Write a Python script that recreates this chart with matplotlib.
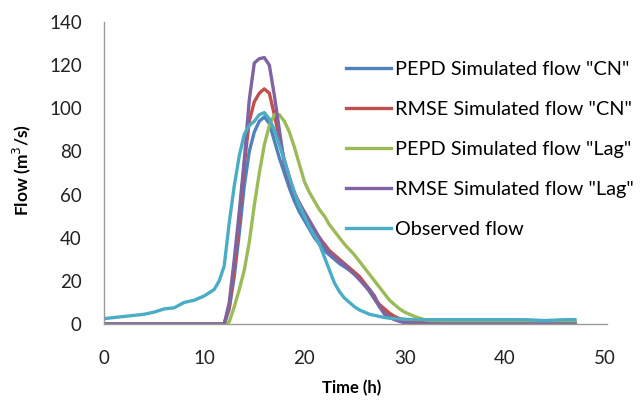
import matplotlib
matplotlib.use("Agg")
import matplotlib.pyplot as plt

# time axis (h)
t_early = [0, 1, 2, 3, 4, 5, 6, 7, 8, 9, 10, 11]
t_mid = [11.5, 12, 12.5, 13, 13.5, 14, 14.5, 15, 15.5, 16, 16.5, 17, 17.5, 18, 18.5,
         19, 19.5, 20, 20.5, 21, 21.5, 22, 22.5, 23, 23.5, 24, 24.5, 25, 25.5, 26,
         26.5, 27, 27.5, 28, 28.5, 29, 29.5, 30, 30.5, 31]
t_late = [32, 33, 34, 35, 36, 37, 38, 39, 40, 41, 42, 43, 44, 45, 46, 47]
time_h = t_early + t_mid + t_late

pepd_cn = ([0] * 12 +
           [0, 0, 7, 22, 42, 64, 80, 89, 94, 96, 93, 85, 77, 70, 63, 57, 52, 48, 44, 40,
            37, 34, 32, 30, 28, 26.5, 25, 23, 21, 18, 15, 11.5, 8, 5.5, 3.5, 2.5, 1.8, 1.3, 1, 0.8] +
           [0.6, 0.5, 0.5, 0.5, 0.5, 0.5, 0.5, 0.5, 0.5, 0.5, 0.5, 0.5, 0.5, 0.5, 0.5, 0.5])
rmse_cn = ([0] * 12 +
           [0, 0, 8, 25, 48, 74, 94, 103, 107, 109, 107, 97, 86, 76, 68, 61, 56, 51, 47, 43,
            40, 37, 34, 32, 30, 28, 26, 24, 22, 19, 16, 12, 9, 7, 5, 3.5, 2.5, 2, 1.5, 1] +
           [0.5, 0.3, 0.3, 0.3, 0.3, 0.3, 0.3, 0.3, 0.3, 0.3, 0.3, 0.3, 0.3, 0.3, 0.3, 0.3])
pepd_lag = ([0] * 12 +
            [0, 0, 1, 8, 16, 25, 38, 55, 70, 83, 92, 97, 97, 94, 89, 82, 74, 66, 61, 57,
             53, 50, 46, 43, 40, 37, 34.5, 32, 29, 26, 23, 20, 17, 14, 11, 9, 7, 5.5, 4.5, 3.5] +
            [2, 1.5, 1.2, 1, 1, 1, 1, 1, 1, 1, 1, 1, 1, 1, 1, 1])
rmse_lag = ([0] * 12 +
            [0, 0, 10, 30, 52, 76, 104, 121, 123, 123.5, 120, 106, 90, 74, 66, 60, 56, 52, 48, 44,
             40, 36, 33, 31, 29, 27.5, 25, 23, 20.5, 18, 16, 13, 8, 4.5, 3, 2, 1.2, 0.6, 0.3, 0] +
            [0] * 16)
observed = ([2.5, 3, 3.5, 4, 4.5, 5.5, 7, 7.5, 10, 11, 13, 16] +
            [20, 27, 47, 64, 78, 88, 92, 94, 97, 98, 95, 90, 83, 76, 68, 61, 55, 50, 45, 41,
             37, 31, 25, 19, 15, 12, 10, 8, 6.5, 5.5, 4.5, 4, 3.5, 3, 2.7, 2.5, 2.3, 2.2, 2.1, 2] +
            [2, 2, 2, 2, 2, 2, 2, 2, 2, 2, 2, 1.8, 1.6, 1.8, 2, 2])

labels = ['PEPD Simulated flow "CN"', 'RMSE Simulated flow "CN"',
          'PEPD Simulated flow "Lag"', 'RMSE Simulated flow "Lag"', 'Observed flow']
colors = ['#4F81BD', '#C0504D', '#9BBB59', '#8064A2', '#4BACC6']
x_ticks = [0, 10, 20, 30, 40, 50]
y_ticks = [0, 20, 40, 60, 80, 100, 120, 140]

plt.rcParams['font.family'] = ['Lato', 'DejaVu Sans']

fig = plt.figure(figsize=(6.4, 4.08), dpi=100)
ax = fig.add_axes([104 / 640, 1 - 324 / 408, 503 / 640, (324 - 22) / 408])

for series, lab, col in zip([pepd_cn, rmse_cn, pepd_lag, rmse_lag, observed], labels, colors):
    ax.plot(time_h, series, color=col, lw=2.4, label=lab, solid_joinstyle='round')

ax.set_xlim(0, 50.2)
ax.set_ylim(0, 140)
ax.set_xticks(x_ticks)
ax.set_yticks(y_ticks)
ax.tick_params(length=0, labelsize=13.5, colors='#222222')
ax.tick_params(axis='y', pad=16)
ax.tick_params(axis='x', pad=19)
for s in ['top', 'right']:
    ax.spines[s].set_visible(False)
for s in ['left', 'bottom']:
    ax.spines[s].set_color('#9a9a9a')
    ax.spines[s].set_linewidth(1.0)

fig.text(22 / 640, 1 - 170 / 408, 'Flow (m$^3$/s)', rotation=90, ha='center', va='center',
         fontsize=12.5, fontweight='bold')
fig.text(352 / 640, 1 - 388 / 408, 'Time (h)', ha='center', va='center',
         fontsize=12, fontweight='bold')

fig.legend(loc='upper left', bbox_to_anchor=(346 / 640, 1 - 61 / 408), frameon=False,
           fontsize=14.3, handlelength=2.27, handletextpad=0.2, labelspacing=1.16,
           borderpad=0, borderaxespad=0)

fig.savefig('out.png', dpi=100)
